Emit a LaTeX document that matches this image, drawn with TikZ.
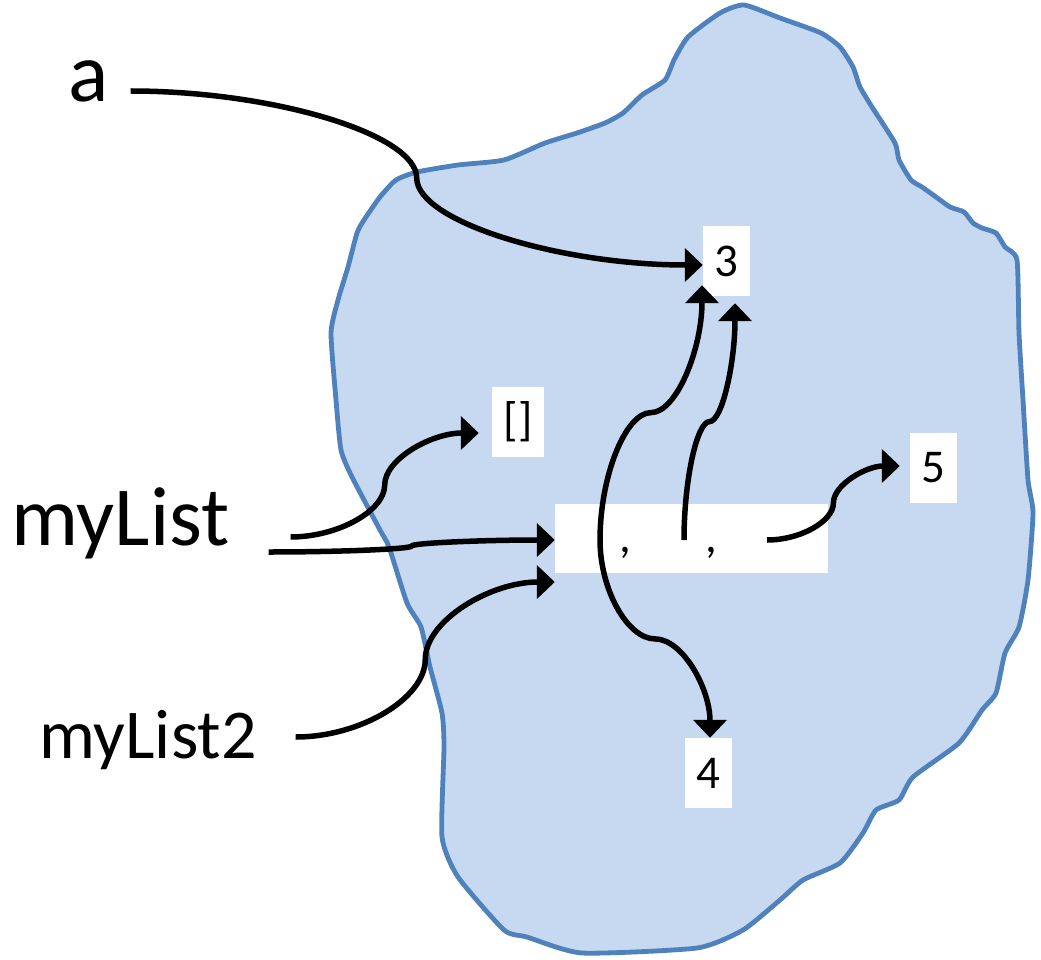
\documentclass[tikz,border=0pt]{standalone}
\usepackage{fontspec}
\setmainfont{Carlito}
\usetikzlibrary{calc,arrows.meta}
\definecolor{blobfill}{RGB}{198,217,240}
\definecolor{blobline}{RGB}{79,129,189}
\tikzset{
  hcc/.style={to path={let \p1=(\tikztostart),\p2=(\tikztotarget),
     \p3=($(\p1)!0.5!(\p2)$),\p4=($(\p1)!0.25!(\p2)$),\p5=($(\p1)!0.75!(\p2)$) in
     .. controls (\x4,\y1) and (\x3,\y4) .. (\x3,\y3)
     .. controls (\x3,\y5) and (\x5,\y2) .. (\tikztotarget)}},
  vcc/.style={to path={let \p1=(\tikztostart),\p2=(\tikztotarget),
     \p3=($(\p1)!0.5!(\p2)$),\p4=($(\p1)!0.25!(\p2)$),\p5=($(\p1)!0.75!(\p2)$) in
     .. controls (\x1,\y4) and (\x4,\y3) .. (\x3,\y3)
     .. controls (\x5,\y3) and (\x2,\y5) .. (\tikztotarget)}},
  conn/.style={line width=5.5pt, -{Triangle[length=18pt,width=33pt]}},
  valbox/.style={fill=white, inner sep=0pt, minimum width=47pt, minimum height=70pt,
     font=\fontsize{47}{50}\selectfont},
  biglabel/.style={inner sep=0pt, anchor=base west, font=\fontsize{84}{90}\selectfont},
  midlabel/.style={inner sep=0pt, anchor=base west, font=\fontsize{70}{76}\selectfont},
  commatext/.style={inner sep=0pt, anchor=base west, font=\fontsize{47}{50}\selectfont},
}
\begin{document}
\begin{tikzpicture}[x=1pt,y=-1pt]
\useasboundingbox (0,0) rectangle (1041,960);
\fill[white] (0,0) rectangle (1041,960);
% blob
\draw[blobline, fill=blobfill, line width=4.8pt, line join=round]
  plot[smooth cycle, tension=0.35] coordinates {
  (744,5) (780,18) (821,33) (840,47) (853,67) (860,87) (872,107) (895,143)
  (899,160) (911,180) (922,187) (936,197) (950,207) (964,212) (973,223)
  (982,228) (996,233) (1005,247) (1017,260) (1019,333) (1023,400) (1028,480)
  (1033,513) (1028,580) (1019,627) (1005,653) (996,693) (982,710) (959,743)
  (913,777) (899,800) (876,810) (863,833) (840,863) (803,880) (780,900)
  (743,930) (697,948) (582,953) (527,937) (504,930) (458,877) (442,837)
  (444,747) (442,713) (430,667) (421,627) (407,603) (389,547) (380,530)
  (352,477) (341,450) (336,400) (331,333) (338,300) (348,267) (357,233)
  (364,220) (380,197) (396,180) (417,172) (458,165) (504,160) (545,143)
  (577,133) (605,123) (623,113) (642,95) (665,80) (674,60) (688,37) (720,13)};

% labels
\node[biglabel] (a) at (68,102) {a};
\node[biglabel] (ml) at (11,545) {myList};
\node[midlabel] (ml2) at (39,758) {myList2};

% value boxes
\node[valbox] (n3) at (726.5,261) {3};
\node[valbox] (n4) at (708.5,773) {4};
\node[valbox] (n5) at (933.5,468) {5};
\node[valbox, minimum width=52pt] (bl) at (518,422) {[]};
\node[fill=white, inner sep=0pt, minimum width=273pt, minimum height=69pt] (lst) at (691.5,538.5) {};
\node[commatext] (c1) at (619,552) {,};
\node[commatext] (c2) at (705,552) {,};

\coordinate (s1) at (600,540);
\coordinate (s2) at (684,540);
\coordinate (s3) at (767,540);

% connectors
\draw[conn] ([shift={(22pt,11pt)}]a.base east) to[hcc] ([yshift=-4pt]n3.west);
\draw[conn] ([shift={(61pt,8pt)}]ml.base east) to[hcc] ([shift={(-13pt,-11pt)}]bl.west);
\draw[conn] ([shift={(39pt,-7pt)}]ml.base east) to[hcc] ([yshift=-1.5pt]lst.west);
\draw[conn] ([shift={(39pt,21pt)}]ml2.base east) to[hcc] ([yshift=-43.5pt]lst.west);
\draw[conn] (s1) to[vcc] ([shift={(-24.5pt,11pt)}]n3.south);
\draw[conn] (s1) to[vcc] ([xshift=1.5pt]n4.north);
\draw[conn] (s2) to[vcc] ([shift={(8.5pt,-7pt)}]n3.south);
\draw[conn] (s3) to[hcc] ([shift={(-10pt,2pt)}]n5.west);
\end{tikzpicture}
\end{document}
